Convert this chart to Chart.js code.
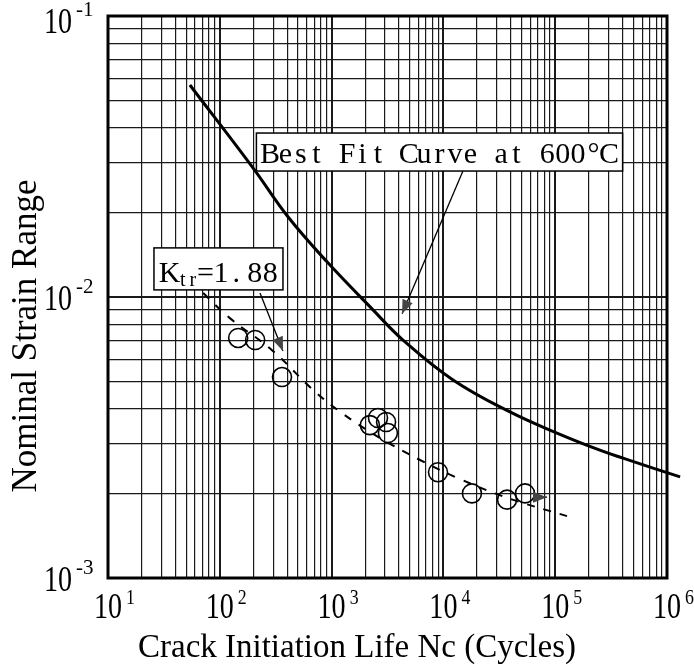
<!DOCTYPE html>
<html>
<head>
<meta charset="utf-8">
<script src="https://cdn.jsdelivr.net/npm/chart.js@4.4.1/dist/chart.umd.min.js"></script>
<style>
  html, body { margin: 0; padding: 0; background: #fff; }
  canvas { display: block; }
</style>
</head>
<body>
<canvas id="chart" width="694" height="667"></canvas>
<script>
// best fit curve at 600 C
const curveN = [54, 198, 407, 910, 2345, 4350, 12200, 39400, 103700, 251000, 404000, 1310000];
const curveStrain = [0.0568, 0.0288, 0.0193, 0.01334, 0.0090, 0.00703, 0.00507, 0.00390, 0.00328, 0.00285, 0.00267, 0.00229];

// dashed fit through the notched specimens (Ktr = 1.88)
const fitN = [71, 123, 293, 683, 1240, 2710, 6180, 14060, 37100, 127600];
const fitStrain = [0.01033, 0.00841, 0.00647, 0.00467, 0.00386, 0.00315, 0.00263, 0.00225, 0.00193, 0.00166];

// test results
const testN = [146, 207, 360, 2200, 2600, 3070, 3190, 8950, 18000, 37100, 53700];
const testStrain = [0.00715, 0.00703, 0.00519, 0.00350, 0.00371, 0.00359, 0.00328, 0.00238, 0.00200, 0.00190, 0.00200];

// axes: decade exponents and the minor grid steps inside a decade
const xExponents = [1, 2, 3, 4, 5, 6];
const yExponents = [-3, -2, -1];
const gridSteps = [1, 2, 3, 4, 5, 6, 7, 8, 9];

// annotations, anchored in data coordinates
const bestFitNote = { text: 'Best Fit Curve at 600°C', center: [9230, 0.0328], from: [14960, 0.0281], to: [4270, 0.00871] };
const ktrNote = { center: [97.3, 0.01259], from: [229, 0.01033], to: [367, 0.00643] };
const runoutArrow = { from: [64600, 0.00194], to: [84500, 0.00194] };

const serif = '"Liberation Serif", "Times New Roman", serif';

function logTicks(exps) {
    const ticks = [];
    for (let i = 0; i < exps.length - 1; i++) {
        gridSteps.forEach((m) => ticks.push({ value: m * Math.pow(10, exps[i]) }));
    }
    ticks.push({ value: Math.pow(10, exps[exps.length - 1]) });
    return ticks;
}

function isDecade(v) {
    const l = Math.log10(v);
    return Math.abs(l - Math.round(l)) < 1e-6;
}

// draws text squeezed horizontally by sx, returns the drawn width
function scaledText(ctx, str, x, y, font, sx, align) {
    ctx.save();
    ctx.font = font;
    const w = ctx.measureText(str).width * sx;
    let left = x;
    if (align === 'center') left = x - w / 2;
    else if (align === 'right') left = x - w;
    ctx.translate(left, y);
    ctx.scale(sx, 1);
    ctx.textAlign = 'left';
    ctx.textBaseline = 'alphabetic';
    ctx.fillText(str, 0, 0);
    ctx.restore();
    return w;
}

// typewriter style: serif glyphs on a fixed pitch
function pitchText(ctx, str, left, y, font, pitch) {
    ctx.save();
    ctx.font = font;
    ctx.textAlign = 'center';
    ctx.textBaseline = 'alphabetic';
    [...str].forEach((ch, i) => ctx.fillText(ch, left + pitch * (i + 0.5), y));
    ctx.restore();
    return pitch * [...str].length;
}

function arrow(ctx, x1, y1, x2, y2) {
    ctx.beginPath();
    ctx.moveTo(x1, y1);
    ctx.lineTo(x2, y2);
    ctx.stroke();
    const a = Math.atan2(y2 - y1, x2 - x1), L = 14, W = 5.5;
    ctx.beginPath();
    ctx.moveTo(x2, y2);
    ctx.lineTo(x2 - L * Math.cos(a) + W * Math.sin(a), y2 - L * Math.sin(a) - W * Math.cos(a));
    ctx.lineTo(x2 - L * Math.cos(a) - W * Math.sin(a), y2 - L * Math.sin(a) + W * Math.cos(a));
    ctx.closePath();
    ctx.fill();
}

function box(ctx, cx, cy, w, h) {
    ctx.fillStyle = '#fff';
    ctx.fillRect(cx - w / 2, cy - h / 2, w, h);
    ctx.strokeStyle = '#000';
    ctx.lineWidth = 1.5;
    ctx.strokeRect(cx - w / 2, cy - h / 2, w, h);
}

const decorations = {
    id: 'decorations',
    afterDatasetsDraw(chart) {
        const { ctx, chartArea: area, scales: { x, y } } = chart;
        const px = (p) => [x.getPixelForValue(p[0]), y.getPixelForValue(p[1])];

        ctx.save();
        // frame
        ctx.strokeStyle = '#000';
        ctx.lineWidth = 3;
        ctx.strokeRect(area.left, area.top, area.right - area.left, area.bottom - area.top);

        // arrows
        ctx.strokeStyle = '#000';
        ctx.fillStyle = '#444';
        ctx.lineWidth = 1.3;
        let a = px(bestFitNote.from), b = px(bestFitNote.to);
        arrow(ctx, a[0], a[1], b[0], b[1]);
        a = px(ktrNote.from); b = px(ktrNote.to);
        arrow(ctx, a[0], a[1], b[0], b[1]);
        a = px(runoutArrow.from); b = px(runoutArrow.to);
        arrow(ctx, a[0], a[1], b[0], b[1]);

        // best fit label
        const big = '30px ' + serif;
        const pitch = 15.4;
        const tw = pitch * [...bestFitNote.text].length;
        let c = px(bestFitNote.center);
        box(ctx, c[0], c[1], tw + 12, 38);
        ctx.fillStyle = '#000';
        pitchText(ctx, bestFitNote.text, c[0] - tw / 2, c[1] + 11, big, pitch);

        // Ktr label
        c = px(ktrNote.center);
        box(ctx, c[0], c[1], 129, 42);
        ctx.fillStyle = '#000';
        let tx = c[0] - 57;
        const base = c[1] + 13;
        tx += pitchText(ctx, 'K', tx, base, big, pitch + 1);
        tx += pitchText(ctx, 'tr', tx, base + 4, '20px ' + serif, 10);
        tx += pitchText(ctx, '=1.', tx, base, big, pitch);
        pitchText(ctx, '88', tx + 3, base, big, pitch);

        // tick labels
        const baseFont = '36px ' + serif;
        const expFont = '21px ' + serif;
        xExponents.forEach((e) => {
            const p = x.getPixelForValue(Math.pow(10, e));
            const w = scaledText(ctx, '10', p, 618, baseFont, 0.78, 'center');
            scaledText(ctx, String(e), p + w / 2 + 4, 604, expFont, 0.85, 'left');
        });
        yExponents.forEach((e) => {
            const p = y.getPixelForValue(Math.pow(10, e));
            const bl = Math.max(p + 13, 33);
            scaledText(ctx, '10', 72, bl, baseFont, 0.78, 'right');
            scaledText(ctx, '-' + Math.abs(e), 76, bl - 17, expFont, 1, 'left');
        });

        // axis titles
        ctx.font = '33px ' + serif;
        ctx.textAlign = 'center';
        ctx.textBaseline = 'alphabetic';
        ctx.fillText('Crack Initiation Life Nc (Cycles)', 357, 657);
        ctx.translate(36, 336);
        ctx.rotate(-Math.PI / 2);
        ctx.font = '35px ' + serif;
        ctx.fillText('Nominal Strain Range', 0, 0);
        ctx.restore();
    }
};

const toPoints = (xs, ys) => xs.map((v, i) => ({ x: v, y: ys[i] }));

const gridOpts = {
    color: '#1a1a1a',
    lineWidth: (ctx) => (ctx.tick && isDecade(ctx.tick.value) ? 2 : 1.2),
    drawTicks: false,
};

new Chart(document.getElementById('chart'), {
    type: 'scatter',
    data: {
        datasets: [
            {
                label: 'Best Fit Curve at 600°C',
                data: toPoints(curveN, curveStrain),
                showLine: true,
                borderColor: '#000',
                borderWidth: 3,
                pointRadius: 0,
                tension: 0.4,
                clip: false,
            },
            {
                label: 'Ktr=1.88 fit',
                data: toPoints(fitN, fitStrain),
                showLine: true,
                borderColor: '#000',
                borderWidth: 2,
                borderDash: [8, 9],
                pointRadius: 0,
                tension: 0.4,
            },
            {
                label: 'Test',
                data: toPoints(testN, testStrain),
                showLine: false,
                pointRadius: 9.5,
                pointBorderWidth: 1.6,
                pointBorderColor: '#000',
                pointBackgroundColor: 'rgba(0,0,0,0)',
            },
        ],
    },
    options: {
        responsive: false,
        animation: false,
        layout: { padding: { left: 108, right: 27, top: 16, bottom: 89 } },
        plugins: { legend: { display: false }, tooltip: { enabled: false } },
        scales: {
            x: {
                type: 'logarithmic',
                min: 10,
                max: 1e6,
                afterBuildTicks: (scale) => { scale.ticks = logTicks(xExponents); },
                ticks: { display: false },
                grid: gridOpts,
                border: { display: false },
            },
            y: {
                type: 'logarithmic',
                min: 1e-3,
                max: 1e-1,
                afterBuildTicks: (scale) => { scale.ticks = logTicks(yExponents); },
                ticks: { display: false },
                grid: gridOpts,
                border: { display: false },
            },
        },
    },
    plugins: [decorations],
});
</script>
</body>
</html>
